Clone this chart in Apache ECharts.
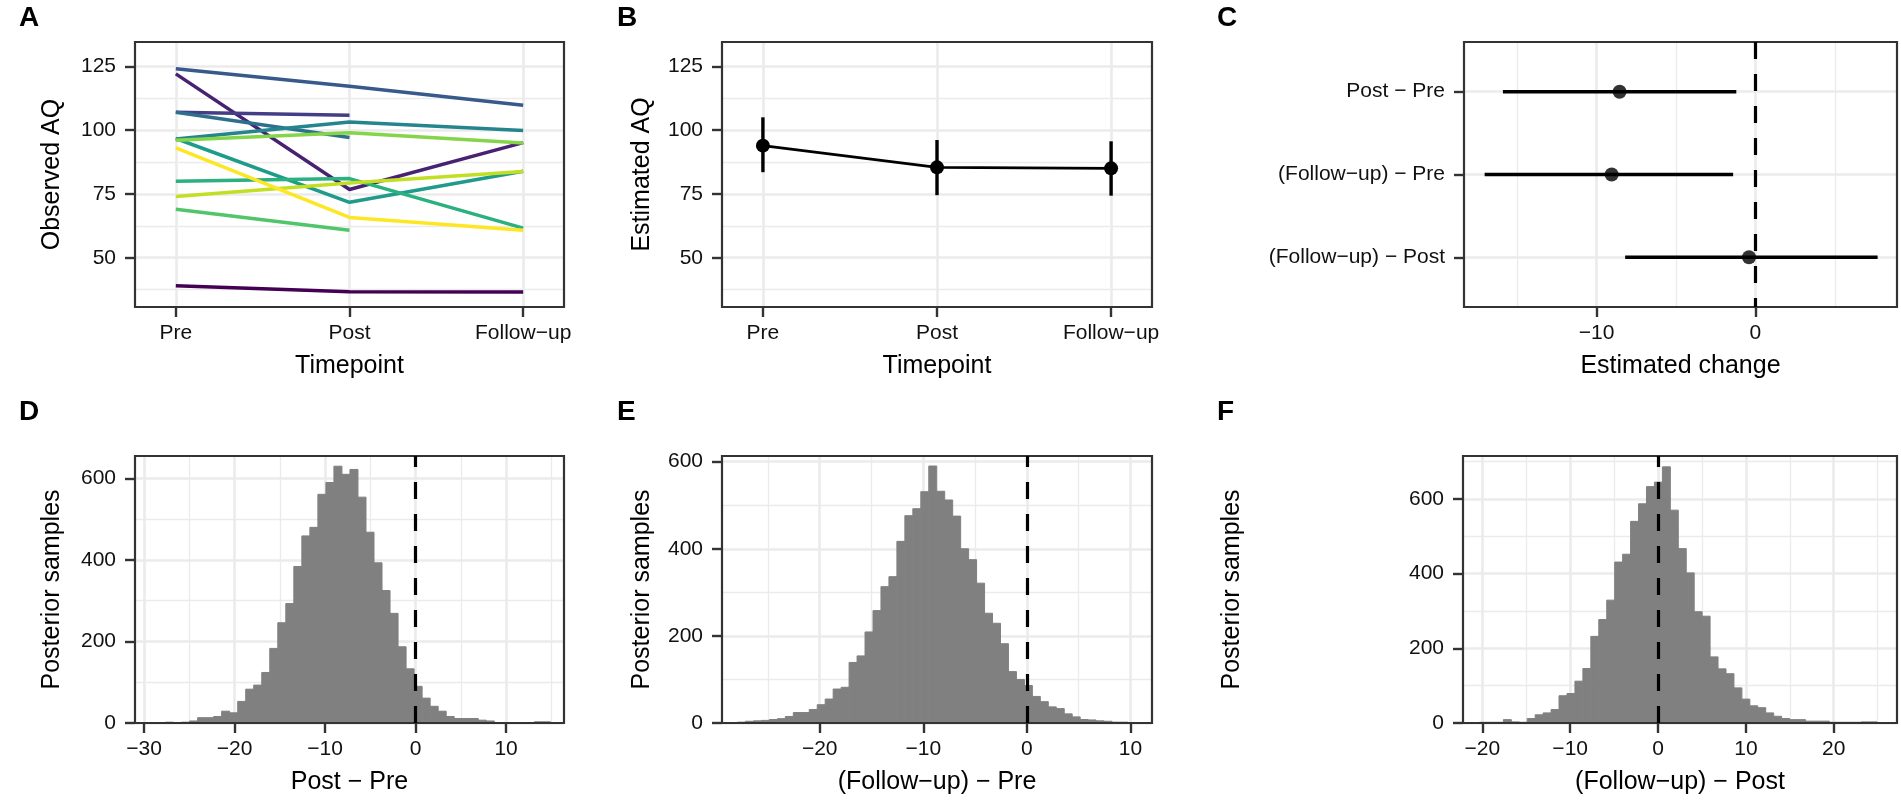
<!DOCTYPE html>
<html>
<head>
<meta charset="utf-8">
<title>AQ: observed, estimated and posterior change</title>
<script src="https://cdn.jsdelivr.net/npm/echarts@6.0.0/dist/echarts.min.js"></script>
<style>
  html, body { margin: 0; padding: 0; background: #ffffff; }
  #chart { width: 1901px; height: 806px; }
</style>
</head>
<body>
<div id="chart"></div>
<script>
// ---- data ----
const timepoints = ['Pre', 'Post', 'Follow\u2212up'];

// panel A: one line per participant (null = no follow-up)
const observedPre    = [39, 122, 107, 124, 107, 96.5, 96.7, 80, 69, 96, 74, 93];
const observedPost   = [36.7, 76.7, 105.8, 117.2, 97.1, 103.2, 71.7, 81, 60.8, 99, 79.3, 65.8];
const observedFollow = [36.6, 95.1, null, 109.7, null, 99.8, 83.9, 61.6, null, 94.9, 83.8, 60.8];
const participantColors = ['#440154', '#482173', '#433E85', '#38598C', '#2D708E', '#25858E',
                           '#1E9B8A', '#2BB07F', '#51C56A', '#85D54A', '#C2DF23', '#FDE725'];

// panel B: estimated AQ with interval
const estMean  = [93.9, 85.4, 85.0];
const estLower = [83.5, 74.5, 74.3];
const estUpper = [105.0, 96.1, 95.6];

// panel C: estimated change
const contrasts   = ['Post \u2212 Pre', '(Follow\u2212up) \u2212 Pre', '(Follow\u2212up) \u2212 Post'];
const changeMean  = [-8.55, -9.05, -0.4];
const changeLower = [-15.9, -17.05, -8.2];
const changeUpper = [-1.2, -1.4, 7.7];

// panels D-F: posterior histograms (first bin edge, bin width, counts)
const postPreStart = -29.4, postPreWidth = 0.886;
const postPreCounts = [1, 1, 2, 1, 2, 5, 13, 13, 16, 29, 25, 53, 83, 93, 124, 183, 246, 293, 384, 459,
  480, 561, 590, 630, 610, 622, 554, 468, 393, 325, 269, 187, 133, 90, 61, 41, 29, 16, 11, 11,
  11, 7, 5, 1, 1, 1, 0, 1, 3, 3];
const followPreStart = -27.93, followPreWidth = 0.769;
const followPreCounts = [2, 4, 5, 6, 8, 10, 15, 24, 24, 31, 42, 55, 78, 82, 139, 154, 209, 258, 313, 336,
  417, 476, 492, 531, 590, 532, 512, 475, 400, 375, 321, 252, 229, 182, 118, 100, 86, 61, 49, 37,
  33, 21, 14, 8, 7, 5, 4, 2, 2, 1];
const followPostStart = -20.32, followPostWidth = 0.905;
const followPostCounts = [2, 2, 2, 9, 3, 2, 12, 22, 27, 36, 73, 79, 112, 146, 232, 277, 329, 431, 452, 540,
  587, 633, 645, 686, 570, 467, 402, 298, 286, 177, 145, 132, 94, 64, 46, 41, 27, 18, 12, 9,
  9, 5, 5, 5, 2, 2, 2, 2, 3, 3];

// tick values
const aqTicks = [50, 75, 100, 125];
const aqMinor = [37.5, 62.5, 87.5, 112.5];
const timeTicks = [1, 2, 3];
const changeTicks = [-10, 0];
const changeMinor = [-15, -5, 5];
const countTicks = [0, 200, 400, 600];
const countMinor = [100, 300, 500];
const countMinorF = [100, 300, 500, 700];
const postPreTicks = [-30, -20, -10, 0, 10];
const postPreMinor = [-25, -15, -5, 5, 15];
const followPreTicks = [-20, -10, 0, 10];
const followPreMinor = [-25, -15, -5, 5];
const followPostTicks = [-20, -10, 0, 10, 20];
const followPostMinor = [-15, -5, 5, 15, 25];

// ---- helpers ----
const FONT = "'Liberation Sans', Arial, Helvetica, sans-serif";
const minusFmt = v => String(v).replace('-', '\u2212');

const grids = [], xAxes = [], yAxes = [], series = [];

function addPanel(box, x, y) {
  const g = grids.length;
  grids.push(Object.assign({
    show: true, z: 5, backgroundColor: 'transparent',
    borderColor: '#333333', borderWidth: 2.2, containLabel: false, outerBoundsMode: 'none'
  }, box));
  const idx = xAxes.length;
  xAxes.push(mainAxis('x', g, x), minorAxis('x', g, x));
  yAxes.push(mainAxis('y', g, y), minorAxis('y', g, y));
  return idx;
}

function mainAxis(dim, g, a) {
  return {
    type: 'value', gridIndex: g, min: a.range[0], max: a.range[1], inverse: !!a.inverse,
    position: dim === 'x' ? 'bottom' : 'left',
    name: a.name || '', nameLocation: 'middle', nameGap: a.nameGap || 0,
    nameTextStyle: { fontFamily: FONT, fontSize: 25, color: '#000' },
    axisLine: { show: false, onZero: false },
    axisTick: { show: true, length: 10, customValues: a.ticks, lineStyle: { color: '#333333', width: 2.4 } },
    axisLabel: {
      customValues: a.ticks, margin: dim === 'x' ? 16 : 19, hideOverlap: false,
      fontFamily: FONT, fontSize: 21, color: '#111', formatter: a.formatter || minusFmt
    },
    splitLine: { show: true, lineStyle: { color: '#ebebeb', width: 2.6 } },
    z: 0
  };
}

function minorAxis(dim, g, a) {
  const ticks = a.minor || [];
  return {
    type: 'value', gridIndex: g, min: a.range[0], max: a.range[1], inverse: !!a.inverse,
    position: dim === 'x' ? 'top' : 'right',
    axisLine: { show: false, onZero: false },
    axisTick: { show: false, customValues: ticks },
    axisLabel: { show: false, customValues: ticks },
    splitLine: { show: ticks.length > 0, lineStyle: { color: '#ebebeb', width: 1.3 } },
    z: 0
  };
}

function vLineAtZero(ax) {
  return {
    type: 'line', xAxisIndex: ax, yAxisIndex: ax, data: [], silent: true,
    markLine: {
      silent: true, symbol: 'none', label: { show: false },
      lineStyle: { color: '#000', width: 3.2, type: [17, 15] },
      data: [{ xAxis: 0 }]
    }
  };
}

function histSeries(ax, start, width, counts) {
  return {
    type: 'custom', xAxisIndex: ax, yAxisIndex: ax, silent: true, z: 2,
    data: counts.map((c, i) => [start + i * width, start + (i + 1) * width, c]),
    encode: { x: [0, 1], y: 2 },
    renderItem: function (params, api) {
      const p0 = api.coord([api.value(0), 0]);
      const p1 = api.coord([api.value(1), api.value(2)]);
      return {
        type: 'rect',
        shape: { x: p0[0], y: p1[1], width: p1[0] - p0[0], height: p0[1] - p1[1] },
        style: { fill: '#808080', stroke: '#808080', lineWidth: 1 }
      };
    }
  };
}

// ---- panel A ----
const axA = addPanel({ left: 135, top: 42, width: 429, height: 265 },
  { range: [0.765, 3.235], ticks: timeTicks, formatter: v => timepoints[v - 1], name: 'Timepoint', nameGap: 47 },
  { range: [30.7, 134.5], ticks: aqTicks, minor: aqMinor, name: 'Observed AQ', nameGap: 70 });
observedPre.forEach((v, i) => {
  const pts = [[1, v], [2, observedPost[i]]];
  if (observedFollow[i] !== null) pts.push([3, observedFollow[i]]);
  series.push({
    type: 'line', xAxisIndex: axA, yAxisIndex: axA, data: pts, symbol: 'none', silent: true, z: 2,
    lineStyle: { color: participantColors[i], width: 3.5, cap: 'butt' }
  });
});

// ---- panel B ----
const axB = addPanel({ left: 722, top: 42, width: 430, height: 265 },
  { range: [0.765, 3.235], ticks: timeTicks, formatter: v => timepoints[v - 1], name: 'Timepoint', nameGap: 47 },
  { range: [30.7, 134.5], ticks: aqTicks, minor: aqMinor, name: 'Estimated AQ', nameGap: 67 });
series.push({
  type: 'custom', xAxisIndex: axB, yAxisIndex: axB, silent: true, z: 2,
  data: estMean.map((m, i) => [i + 1, estLower[i], estUpper[i]]),
  encode: { x: 0, y: [1, 2] },
  renderItem: function (params, api) {
    const lo = api.coord([api.value(0), api.value(1)]);
    const hi = api.coord([api.value(0), api.value(2)]);
    return { type: 'line', shape: { x1: lo[0], y1: lo[1], x2: hi[0], y2: hi[1] },
             style: { stroke: '#000', lineWidth: 3.4 } };
  }
});
series.push({
  type: 'line', xAxisIndex: axB, yAxisIndex: axB, silent: true, z: 3,
  data: estMean.map((m, i) => [i + 1, m]),
  symbol: 'circle', symbolSize: 14, showSymbol: true,
  itemStyle: { color: '#000' }, lineStyle: { color: '#000', width: 2.8 }
});

// ---- panel C ----
const axC = addPanel({ left: 1464, top: 42, width: 433, height: 265 },
  { range: [-18.35, 8.92], ticks: changeTicks, minor: changeMinor, name: 'Estimated change', nameGap: 47 },
  { range: [0.4, 3.6], inverse: true, ticks: [1, 2, 3], formatter: v => contrasts[v - 1] });
series.push(vLineAtZero(axC));
series.push({
  type: 'custom', xAxisIndex: axC, yAxisIndex: axC, silent: true, z: 2,
  data: changeMean.map((m, i) => [changeLower[i], changeUpper[i], i + 1]),
  encode: { x: [0, 1], y: 2 },
  renderItem: function (params, api) {
    const lo = api.coord([api.value(0), api.value(2)]);
    const hi = api.coord([api.value(1), api.value(2)]);
    return { type: 'line', shape: { x1: lo[0], y1: lo[1], x2: hi[0], y2: hi[1] },
             style: { stroke: '#000', lineWidth: 3.4 } };
  }
});
series.push({
  type: 'scatter', xAxisIndex: axC, yAxisIndex: axC, silent: true, z: 6,
  data: changeMean.map((m, i) => [m, i + 1]),
  symbol: 'circle', symbolSize: 14, itemStyle: { color: '#000' }
});

// ---- panels D, E, F ----
const axD = addPanel({ left: 135, top: 456, width: 429, height: 267 },
  { range: [-31.0, 16.4], ticks: postPreTicks, minor: postPreMinor, name: 'Post \u2212 Pre', nameGap: 47 },
  { range: [0, 655], ticks: countTicks, minor: countMinor, name: 'Posterior samples', nameGap: 70 });
series.push(histSeries(axD, postPreStart, postPreWidth, postPreCounts));
series.push(vLineAtZero(axD));

const axE = addPanel({ left: 722, top: 456, width: 430, height: 267 },
  { range: [-29.43, 12.07], ticks: followPreTicks, minor: followPreMinor, name: '(Follow\u2212up) \u2212 Pre', nameGap: 47 },
  { range: [0, 613], ticks: countTicks, minor: countMinor, name: 'Posterior samples', nameGap: 67 });
series.push(histSeries(axE, followPreStart, followPreWidth, followPreCounts));
series.push(vLineAtZero(axE));

const axF = addPanel({ left: 1463, top: 456, width: 434, height: 267 },
  { range: [-22.2, 27.2], ticks: followPostTicks, minor: followPostMinor, name: '(Follow\u2212up) \u2212 Post', nameGap: 47 },
  { range: [0, 715], ticks: countTicks, minor: countMinorF, name: 'Posterior samples', nameGap: 218 });
series.push(histSeries(axF, followPostStart, followPostWidth, followPostCounts));
series.push(vLineAtZero(axF));

// panel tags
const tags = [['A', 19, 4], ['B', 617, 4], ['C', 1217, 4], ['D', 19, 398], ['E', 617, 398], ['F', 1217, 398]];

const chart = echarts.init(document.getElementById('chart'), null, { renderer: 'canvas' });
chart.setOption({
  animation: false,
  backgroundColor: '#ffffff',
  title: tags.map(t => ({
    text: t[0], left: t[1], top: t[2], padding: 0,
    textStyle: { fontFamily: FONT, fontSize: 28, fontWeight: 'bold', color: '#000' }
  })),
  grid: grids,
  xAxis: xAxes,
  yAxis: yAxes,
  series: series
});
</script>
</body>
</html>
